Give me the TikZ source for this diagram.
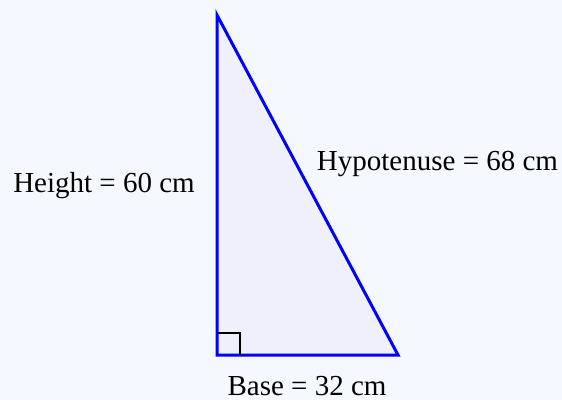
\documentclass[tikz,border=0pt]{standalone}
\usepackage{fontspec}
\setmainfont{Liberation Serif}
\definecolor{bg}{RGB}{245,248,254}
\definecolor{trifill}{RGB}{240,240,252}
\begin{document}
\begin{tikzpicture}[x=1pt,y=1pt,
  lbl/.style={font=\fontsize{29}{31}\selectfont, text=black, inner sep=0pt}]
\fill[bg] (0,0) rectangle (562,400);
\useasboundingbox (0,0) rectangle (562,400);
\coordinate (A) at (217,385);
\coordinate (B) at (217,45);
\coordinate (C) at (398,45);
\filldraw[fill=trifill, draw=blue, line width=3pt, line join=miter] (A) -- (B) -- (C) -- cycle;
\draw[black, line width=1.5pt] ([yshift=22pt]B) -- ++(23,0) -- ++(0,-22);
\node[lbl, anchor=base] (h) at (104,208) {Height = 60 cm};
\node[lbl, anchor=base] (hy) at (437.5,230) {Hypotenuse = 68 cm};
\node[lbl, anchor=base] (b) at (307,5) {Base = 32 cm};
\end{tikzpicture}
\end{document}
